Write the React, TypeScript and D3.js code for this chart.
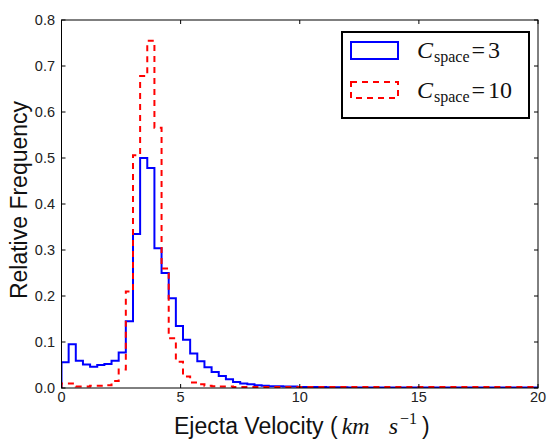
import React from "react";
import * as d3 from "d3";

const binWidth = 0.3;
const xTicks = [0, 5, 10, 15, 20];
const yTicks = [0.0, 0.1, 0.2, 0.3, 0.4, 0.5, 0.6, 0.7, 0.8];

// C_space = 3 (blue, solid)
const blueValues = [
  0.056, 0.095, 0.059, 0.051, 0.046, 0.05, 0.052, 0.059, 0.077, 0.145,
  0.335, 0.5, 0.478, 0.304, 0.25, 0.195, 0.135, 0.105, 0.075, 0.058,
  0.045, 0.035, 0.026, 0.019, 0.013, 0.01, 0.008, 0.006, 0.005, 0.004,
  0.004, 0.003, 0.003, 0.002, 0.002, 0.002, 0.002, 0.0015, 0.0015, 0.0015,
  0.001, 0.001, 0.001, 0.001, 0.001, 0.001, 0.001, 0.001, 0.001, 0.001,
  0.001, 0.001, 0.001, 0.001, 0.001, 0.001, 0.001, 0.001, 0.001, 0.001,
  0.001, 0.001, 0.001, 0.001, 0.001, 0.001, 0.001,
];

// C_space = 10 (red, dashed)
const redValues = [
  0.01, 0.01, 0.003, 0.003, 0.005, 0.005, 0.006, 0.015, 0.04, 0.21,
  0.506, 0.678, 0.755, 0.566, 0.26, 0.108, 0.057, 0.025, 0.012, 0.008,
  0.005, 0.004, 0.003, 0.003, 0.002, 0.002, 0.002, 0.002, 0.002, 0.002,
  0.002, 0.002, 0.002, 0.002, 0.002, 0.002, 0.002, 0.002, 0.002, 0.002,
  0.002, 0.002, 0.002, 0.002, 0.002, 0.002, 0.002, 0.002, 0.002, 0.002,
  0.002, 0.002, 0.002, 0.002, 0.002, 0.002, 0.002, 0.002, 0.002, 0.002,
  0.002, 0.002, 0.002, 0.002, 0.002, 0.002, 0.002,
];

const W = 547;
const H = 439;
const left = 61.5;
const right = 538;
const top = 20;
const bottom = 388;

const x = d3.scaleLinear().domain([0, 20]).range([left, right]);
const y = d3.scaleLinear().domain([0, 0.8]).range([bottom, top]);

function stepPath(values: number[]): string {
  const pts: [number, number][] = [[0, 0]];
  values.forEach((v, i) => pts.push([i * binWidth, v]));
  pts.push([values.length * binWidth, 0]);
  const line = d3
    .line<[number, number]>()
    .x((d) => x(d[0]))
    .y((d) => y(d[1]))
    .curve(d3.curveStepAfter);
  return line(pts) || "";
}

const sans = "'Liberation Sans', Arial, sans-serif";
const serif = "'Liberation Serif', 'Times New Roman', serif";

export default function App() {
  const tickLen = 4;
  return (
    <svg
      width={W}
      height={H}
      style={{ position: "absolute", left: 0, top: 0, background: "#fff" }}
    >
      <defs>
        <clipPath id="plotclip">
          <rect x={left} y={top} width={right - left} height={bottom - top} />
        </clipPath>
      </defs>
      <rect x={0} y={0} width={W} height={H} fill="#fff" />
      <g clipPath="url(#plotclip)">
        <path d={stepPath(blueValues)} fill="none" stroke="#0000ff" strokeWidth={2} strokeLinejoin="miter" />
        <path d={stepPath(redValues)} fill="none" stroke="#ff0000" strokeWidth={2} strokeDasharray="6,5" />
      </g>
      {/* frame */}
      <rect x={left} y={top} width={right - left} height={bottom - top} fill="none" stroke="#000" strokeWidth={1} />
      {/* x ticks */}
      {xTicks.map((t) => (
        <g key={"xt" + t}>
          <line x1={x(t)} x2={x(t)} y1={bottom} y2={bottom - tickLen} stroke="#000" />
          <line x1={x(t)} x2={x(t)} y1={top} y2={top + tickLen} stroke="#000" />
          <text x={x(t)} y={402} textAnchor="middle" fontFamily={sans} fontSize={14.5} fill="#222">
            {t}
          </text>
        </g>
      ))}
      {/* y ticks */}
      {yTicks.map((t) => (
        <g key={"yt" + t}>
          <line x1={left} x2={left + tickLen} y1={y(t)} y2={y(t)} stroke="#000" />
          <line x1={right} x2={right - tickLen} y1={y(t)} y2={y(t)} stroke="#000" />
          <text x={55} y={y(t) + 5} textAnchor="end" fontFamily={sans} fontSize={14.5} fill="#222">
            {t.toFixed(1)}
          </text>
        </g>
      ))}
      {/* axis labels */}
      <text
        transform={`translate(27, 200) rotate(-90)`}
        textAnchor="middle"
        fontFamily={sans}
        fontSize={23}
        fill="#111"
      >
        Relative Frequency
      </text>
      <text x={174} y={434} fontFamily={sans} fontSize={23} fill="#111">
        Ejecta Velocity (
        <tspan fontFamily={serif} fontStyle="italic" fontSize={24} dx={4}>km</tspan>
        <tspan fontFamily={serif} fontStyle="italic" fontSize={24} dx={19}>s</tspan>
        <tspan fontFamily={serif} fontSize={16} dy={-10} dx={2}>−1</tspan>
        <tspan dy={10} dx={5}>)</tspan>
      </text>
      {/* legend */}
      <rect x={342} y={32} width={187} height={86} fill="#fff" stroke="#000" strokeWidth={2} />
      <rect x={351} y={42} width={47} height={17} fill="none" stroke="#0000ff" strokeWidth={2} />
      <rect x={351} y={82} width={47} height={16} fill="none" stroke="#ff0000" strokeWidth={2} strokeDasharray="6,5" />
      <text x={417} y={58} fontFamily={serif} fontSize={24} fill="#111">
        <tspan fontStyle="italic">C</tspan>
        <tspan fontSize={16} dy={4} dx={1}>space</tspan>
        <tspan dy={-4} dx={2}>=</tspan>
        <tspan dx={3}>3</tspan>
      </text>
      <text x={417} y={98} fontFamily={serif} fontSize={24} fill="#111">
        <tspan fontStyle="italic">C</tspan>
        <tspan fontSize={16} dy={4} dx={1}>space</tspan>
        <tspan dy={-4} dx={2}>=</tspan>
        <tspan dx={3}>10</tspan>
      </text>
    </svg>
  );
}
